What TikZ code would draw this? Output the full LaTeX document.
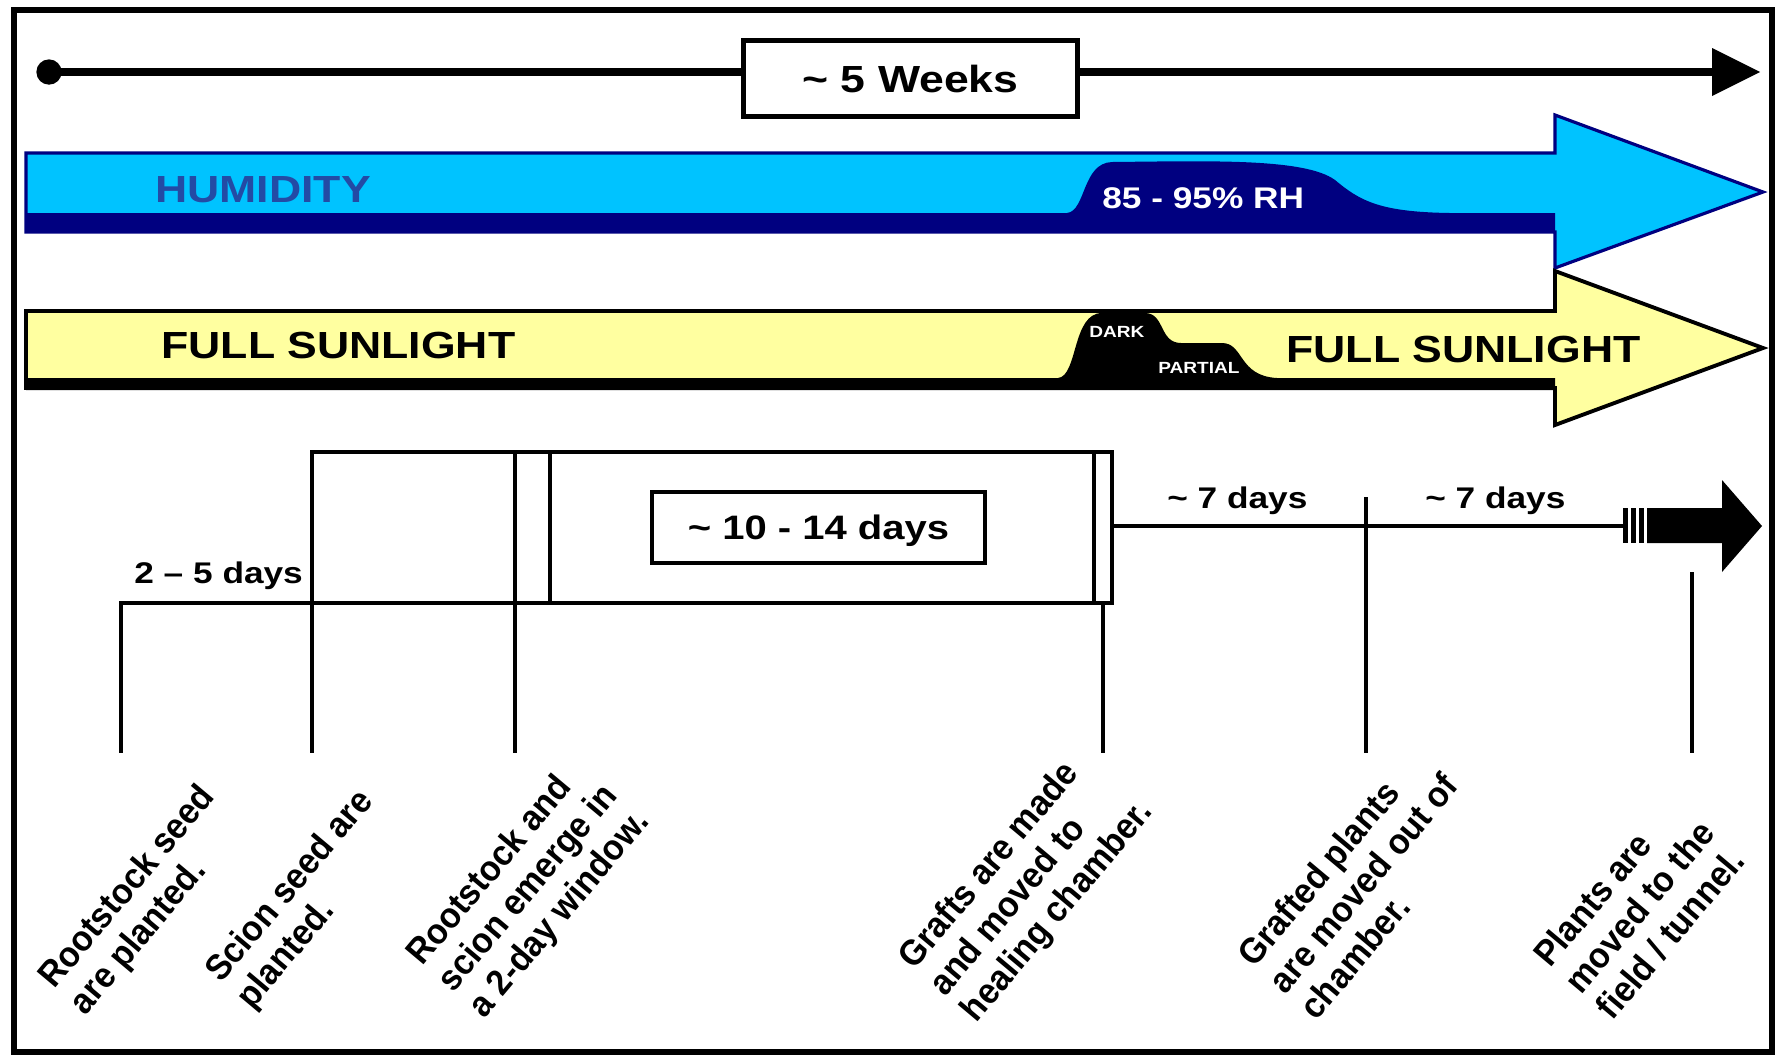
\documentclass[tikz,border=0pt]{standalone}
\usepackage{fontspec}
\setmainfont{Liberation Sans}
\usepackage{graphicx}
\newcommand{\stretchtxt}[1]{\scalebox{1.18}[1]{#1}}
\definecolor{skyb}{RGB}{0,195,255}
\definecolor{navyb}{RGB}{0,0,128}
\definecolor{humtxt}{RGB}{35,75,165}
\definecolor{sunyel}{RGB}{255,255,160}
\begin{document}
\begin{tikzpicture}[x=0.02cm,y=-0.02cm,
  frameline/.style={line width=3.5pt},
  tline/.style={line width=4.5pt},
  bline/.style={line width=2.5pt},
  hz/.style={inner sep=0pt, anchor=base west},
  lbl/.style={rotate=50, xscale=0.94, anchor=north west, inner sep=0pt, align=left, font=\bfseries\fontsize{20.4}{23.2}\selectfont},
  bigtxt/.style={font=\bfseries\fontsize{21.5}{25}\selectfont},
  midtxt/.style={font=\bfseries\fontsize{17}{20}\selectfont},
  durtxt/.style={font=\bfseries\fontsize{19.3}{22}\selectfont},
  smalltxt/.style={font=\bfseries\fontsize{9.2}{11}\selectfont}]

\useasboundingbox[fill=white] (0,0) rectangle (1777,1056);
\draw[frameline] (14,10) rectangle (1772,1052);

% ---------- top timeline ----------
\coordinate (dot) at (49,72);
\coordinate (thead) at (1712,72);
\coordinate (thU) at (1712,48);
\coordinate (thD) at (1712,96);
\coordinate (ttip) at (1760,72);
\node[draw, line width=2.8pt, minimum width=189.9pt, minimum height=43.7pt, inner sep=0pt, fill=white, bigtxt] (weeks) at (910.5,78.5) {\stretchtxt{\textasciitilde{} 5 Weeks}};
\fill (dot) circle[radius=7.2pt];
\draw[tline] (dot) -- (weeks.west |- dot);
\draw[tline] (weeks.east |- dot) -- (thead);
\fill (thU) -- (ttip) -- (thD) -- cycle;

% ---------- humidity arrow ----------
\fill[skyb] (26,153) -- (1555,153) -- (1555,115) -- (1763,192) -- (1555,268) -- (1555,232) -- (26,232) -- cycle;
\fill[navyb] (26,213) -- (1067,213) .. controls (1086,211) and (1082,163) .. (1112,162)
  .. controls (1210,161) and (1305,158) .. (1335,180)
  .. controls (1360,201) and (1380,212) .. (1450,213) -- (1555,213) -- (1555,232) -- (26,232) -- cycle;
\draw[navyb, line width=1.8pt] (26,153) -- (1555,153) -- (1555,115) -- (1763,192) -- (1555,268) -- (1555,232) -- (26,232) -- cycle;
\node[hz, bigtxt, text=humtxt] (humlbl) at (155,202) {\stretchtxt{HUMIDITY}};
\node[hz, midtxt, text=white] (rhlbl) at (1102,208) {\stretchtxt{85 - 95\% RH}};

% ---------- sunlight arrow ----------
\fill[sunyel] (26,311) -- (1555,311) -- (1555,271) -- (1763,348) -- (1555,425) -- (1555,388) -- (26,388) -- cycle;
\fill[black] (26,378) -- (1058,378) .. controls (1078,376) and (1072,313) .. (1102,313) -- (1145,313)
  .. controls (1165,313) and (1159,343) .. (1181,343) -- (1222,343)
  .. controls (1244,343) and (1238,376) .. (1277,378) -- (1555,378) -- (1555,390) -- (26,390) -- cycle;
\draw[line width=2.2pt] (26,311) -- (1555,311) -- (1555,271) -- (1763,348) -- (1555,425) -- (1555,388) -- (26,388) -- cycle;
\node[hz, bigtxt] (sun1) at (161,358) {\stretchtxt{FULL SUNLIGHT}};
\node[hz, bigtxt] (sun2) at (1286,362) {\stretchtxt{FULL SUNLIGHT}};
\node[hz, smalltxt, text=white] (dark) at (1089,337) {\stretchtxt{DARK}};
\node[hz, smalltxt, text=white] (partial) at (1158,373) {\stretchtxt{PARTIAL}};

% ---------- bottom schedule ----------
\coordinate (boxTL) at (312,452);
\coordinate (boxBR) at (1112,603);
\draw[bline] (boxTL) rectangle (boxBR);
\coordinate (in1t) at (515,452);
\coordinate (in2t) at (550,452);
\coordinate (in2b) at (550,603);
\coordinate (in3t) at (1094,452);
\coordinate (in3b) at (1094,603);
\draw[bline] (in2t) -- (in2b);
\draw[bline] (in3t) -- (in3b);

\coordinate (e1t) at (121,603);  \coordinate (e1b) at (121,753);
\coordinate (e2t) at (312,603);  \coordinate (e2b) at (312,753);
\coordinate (e3b) at (515,753);
\coordinate (e4t) at (1103,603); \coordinate (e4b) at (1103,753);
\coordinate (e5t) at (1366,497); \coordinate (e5b) at (1366,753);
\coordinate (e6t) at (1692,572); \coordinate (e6b) at (1692,753);
\draw[bline] (e2t) -- (e1t) -- (e1b);
\draw[bline] (e2t) -- (e2b);
\draw[bline] (in1t) -- (e3b);
\draw[bline] (e4t) -- (e4b);
\draw[bline] (e5t) -- (e5b);
\draw[bline] (e6t) -- (e6b);

\node[draw, line width=2.3pt, minimum width=189.9pt, minimum height=40.2pt, inner sep=0pt, text depth=0pt, durtxt] (dur) at (818.5,527.5) {\stretchtxt{\textasciitilde{} 10 - 14 days}};

\coordinate (hstart) at (1112,526);
\coordinate (hend) at (1623,526);
\draw[bline] (hstart) -- (hend);
\fill (1623,508) rectangle (1628,543);
\fill (1631,508) rectangle (1636,543);
\fill (1639,508) rectangle (1644,543);
\fill (1647,508) -- (1722,508) -- (1722,480) -- (1762,526) -- (1722,572) -- (1722,543) -- (1647,543) -- cycle;

\node[hz, midtxt] (d25) at (134,583) {\stretchtxt{2 -- 5 days}};
\node[hz, midtxt] (d7a) at (1167,508) {\stretchtxt{\textasciitilde{} 7 days}};
\node[hz, midtxt] (d7b) at (1425,508) {\stretchtxt{\textasciitilde{} 7 days}};

% ---------- event labels ----------
\node[lbl] (ev1lbl) at (34.1,973.3) {Rootstock seed\\are planted.};
\node[lbl] (ev2lbl) at (201.1,967.3) {Scion seed are\\planted.};
\node[lbl] (ev3lbl) at (402.1,950.3) {Rootstock and\\scion emerge in\\a 2-day window.};
\node[lbl] (ev4lbl) at (894.1,954.3) {Grafts are made\\and moved to\\healing chamber.};
\node[lbl] (ev5lbl) at (1234.1,952.3) {Grafted plants\\are moved out of\\chamber.};
\node[lbl] (ev6lbl) at (1530.1,952.3) {Plants are\\moved to the\\field / tunnel.};
\end{tikzpicture}
\end{document}
